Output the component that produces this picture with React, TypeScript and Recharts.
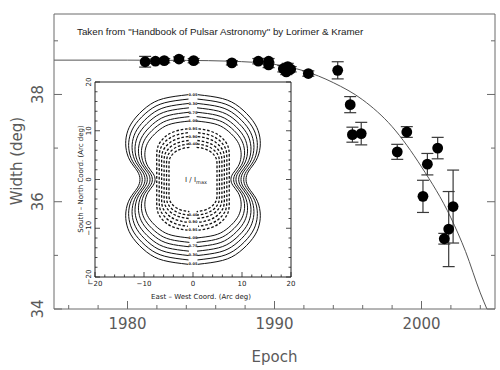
import React from "react"
import { ComposedChart, Line, Scatter, ErrorBar, XAxis, YAxis } from "recharts"

// fitted model curve
const curveYears = [1975, 1980, 1984, 1987, 1990, 1992, 1994, 1996, 1998, 2000, 2002, 2003, 2004, 2004.45]
const curveWidths = [38.64, 38.64, 38.635, 38.62, 38.56, 38.44, 38.22, 37.9, 37.4, 36.65, 35.7, 35.07, 34.3, 34.0]

// measured widths
const epochs = [1981.2, 1981.9, 1982.5, 1983.5, 1984.5, 1987.1, 1988.9, 1989.6, 1989.6, 1990.6, 1990.9, 1990.8, 1991.1, 1992.3, 1994.3, 1995.15, 1995.3, 1995.9, 1998.35, 1999.0, 2000.1, 2000.4, 2001.1, 2001.55, 2001.85, 2002.15]
const widths = [38.61, 38.62, 38.63, 38.66, 38.63, 38.59, 38.62, 38.62, 38.55, 38.48, 38.52, 38.42, 38.47, 38.39, 38.45, 37.81, 37.25, 37.27, 36.93, 37.3, 36.1, 36.7, 37.0, 35.31, 35.49, 35.91]
const errors = [0.1, 0.04, 0.04, 0.04, 0.04, 0.04, 0.05, 0.05, 0.05, 0.06, 0.06, 0.05, 0.05, 0.05, 0.16, 0.15, 0.14, 0.21, 0.14, 0.1, 0.3, 0.2, 0.2, 0.1, 0.7, 0.68]

const xTicks = [1976, 1978, 1980, 1982, 1984, 1986, 1988, 1990, 1992, 1994, 1996, 1998, 2000, 2002, 2004]
const yTicks = [34, 35, 36, 37, 38, 39]

// inset beam map: contour quadrant outlines (normalised) and their extents [half width, top]
const outerShape = [[-0.07, 1], [-0.44, 0.954], [-0.69, 0.855], [-0.89, 0.694], [-0.985, 0.538], [-1, 0.382], [-0.94, 0.225], [-0.83, 0.1], [-0.79, 0]]
const innerShape = [[-0.15, 1], [-0.45, 0.96], [-0.72, 0.87], [-0.9, 0.74], [-0.99, 0.58], [-1, 0.3], [-1, 0]]
const solidLevels = [[13.7, 17.4], [13.1, 16.5], [12.4, 15.6], [11.8, 14.7], [11.1, 13.8], [10.5, 12.9], [9.8, 12.0]]
const dashedLevels = [[7.4, 10.4], [6.9, 9.6], [6.4, 8.8], [5.9, 8.0], [5.4, 7.3], [4.9, 6.6]]
const contourLabelY = [17.3, 15.5, 13.7, 11.9, 10.3, 8.7, 7.2, -7.2, -8.7, -10.3, -11.9, -13.7, -15.5, -17.3]
const contourLabelText = ["0.05", "0.30", "0.75", "1.00", "0.95", "0.90", "0.40", "0.40", "0.90", "0.95", "1.00", "0.75", "0.30", "0.05"]
const insetTicks = [-20, -18, -16, -14, -12, -10, -8, -6, -4, -2, 0, 2, 4, 6, 8, 10, 12, 14, 16, 18, 20]

const curve = curveYears.map((year, i) => ({ year, w: curveWidths[i] }))
const points = epochs.map((year, i) => ({ year, w: widths[i], err: errors[i] }))

function halfPath(shape: number[][], w: number, t: number, side: number) {
  const upper = shape.map(([u, v]) => ({ x: side * u * w, y: v * t }))
  const lower = shape.slice(0, -1).reverse().map(([u, v]) => ({ x: side * u * w, y: -v * t }))
  return [...upper, ...lower]
}

const contours: { key: string; dashed: boolean; data: { x: number; y: number }[] }[] = []
solidLevels.forEach(([w, t], i) => {
  ;[1, -1].forEach((s) => contours.push({ key: `s${i}${s}`, dashed: false, data: halfPath(outerShape, w, t, s) }))
})
dashedLevels.forEach(([w, t], i) => {
  ;[1, -1].forEach((s) => contours.push({ key: `d${i}${s}`, dashed: true, data: halfPath(innerShape, w, t, s) }))
})
const contourLabels = contourLabelY.map((y, i) => ({ x: 0, y, t: contourLabelText[i] }))

const AXIS = "#6a6a6a"
const TXT = "#5a5a5a"
const FONT = "DejaVu Sans"

const minus = (v: number) => (v < 0 ? "\u2212" + Math.abs(v) : String(v))

export default function App() {
  return (
    <div style={{ position: "absolute", left: 0, top: 0, width: 500, height: 370, background: "#fff" }}>
      <ComposedChart width={500} height={370} margin={{ top: 0, right: 0, bottom: 0, left: 0 }}>
        <XAxis
          xAxisId="b"
          dataKey="year"
          type="number"
          domain={[1975, 2005]}
          ticks={xTicks}
          interval={0}
          height={61}
          tickSize={0}
          tickMargin={0}
          axisLine={{ stroke: AXIS }}
          allowDataOverflow
          tick={(p: any) => {
            const major = p.payload.value % 10 === 0
            return (
              <g>
                <line x1={p.x} x2={p.x} y1={p.y} y2={p.y - (major ? 8 : 4)} stroke={AXIS} />
                {major && (
                  <text x={p.x} y={p.y + 19.5} textAnchor="middle" fontSize={15} fontFamily={FONT} fill={TXT}>
                    {p.payload.value}
                  </text>
                )}
              </g>
            )
          }}
          label={{
            content: () => (
              <text x={274.5} y={362} textAnchor="middle" fontSize={15} fontFamily={FONT} fill={TXT}>
                Epoch
              </text>
            ),
          }}
        />
        <XAxis
          xAxisId="t"
          orientation="top"
          type="number"
          domain={[1975, 2005]}
          ticks={xTicks}
          interval={0}
          height={14}
          tickSize={0}
          tickMargin={0}
          axisLine={{ stroke: AXIS }}
          allowDataOverflow
          tick={(p: any) => {
            const major = p.payload.value % 10 === 0
            return <line x1={p.x} x2={p.x} y1={p.y} y2={p.y + (major ? 8 : 4)} stroke={AXIS} />
          }}
        />
        <YAxis
          yAxisId="l"
          type="number"
          domain={[34, 39.5]}
          ticks={yTicks}
          interval={0}
          width={54}
          tickSize={0}
          tickMargin={0}
          axisLine={{ stroke: AXIS }}
          allowDataOverflow
          tick={(p: any) => {
            const major = p.payload.value % 2 === 0
            const tx = p.x - 16
            return (
              <g>
                <line x1={p.x} x2={p.x + (major ? 8 : 4)} y1={p.y} y2={p.y} stroke={AXIS} />
                {major && (
                  <text
                    x={tx}
                    y={p.y}
                    transform={`rotate(-90 ${tx} ${p.y})`}
                    textAnchor="middle"
                    dominantBaseline="central"
                    fontSize={15}
                    fontFamily={FONT}
                    fill={TXT}
                  >
                    {p.payload.value}
                  </text>
                )}
              </g>
            )
          }}
          label={{
            content: () => (
              <text
                x={17}
                y={161}
                transform="rotate(-90 17 161)"
                textAnchor="middle"
                dominantBaseline="central"
                fontSize={15}
                fontFamily={FONT}
                fill={TXT}
              >
                Width (deg)
              </text>
            ),
          }}
        />
        <YAxis
          yAxisId="r"
          orientation="right"
          type="number"
          domain={[34, 39.5]}
          ticks={yTicks}
          interval={0}
          width={5}
          tickSize={0}
          tickMargin={0}
          axisLine={{ stroke: AXIS }}
          allowDataOverflow
          tick={(p: any) => {
            const major = p.payload.value % 2 === 0
            return <line x1={p.x} x2={p.x - (major ? 8 : 4)} y1={p.y} y2={p.y} stroke={AXIS} />
          }}
        />
        <Line
          xAxisId="b"
          yAxisId="l"
          data={curve}
          dataKey="w"
          type="monotone"
          stroke="#555"
          strokeWidth={1}
          dot={false}
          activeDot={false}
          isAnimationActive={false}
        />
        <Scatter
          xAxisId="b"
          yAxisId="l"
          data={points}
          dataKey="w"
          isAnimationActive={false}
          shape={(p: any) => <circle cx={p.cx} cy={p.cy} r={5.4} fill="#000" />}
        >
          <ErrorBar dataKey="err" direction="y" width={6} stroke="#3a3a3a" strokeWidth={1.2} isAnimationActive={false} />
        </Scatter>
      </ComposedChart>

      <div
        style={{
          position: "absolute",
          left: 77,
          top: 26,
          fontSize: 9.8,
          fontFamily: "Liberation Sans",
          color: "#222",
          whiteSpace: "nowrap",
        }}
      >
        {'Taken from "Handbook of Pulsar Astronomy" by Lorimer & Kramer'}
      </div>

      <div style={{ position: "absolute", left: 60, top: 70, width: 240, height: 232 }}>
        <ComposedChart width={240} height={232} margin={{ top: 0, right: 0, bottom: 0, left: 0 }}>
          <XAxis
            xAxisId="ib"
            dataKey="x"
            type="number"
            domain={[-20, 20]}
            ticks={insetTicks}
            interval={0}
            height={25}
            tickSize={0}
            tickMargin={0}
            axisLine={{ stroke: "#222" }}
            allowDataOverflow
            tick={(p: any) => {
              const major = p.payload.value % 10 === 0
              return (
                <g>
                  <line x1={p.x} x2={p.x} y1={p.y} y2={p.y - (major ? 5 : 2.5)} stroke="#222" strokeWidth={0.8} />
                  {major && (
                    <text x={p.x} y={p.y + 9} textAnchor="middle" fontSize={7} fontFamily={FONT} fill="#222">
                      {minus(p.payload.value)}
                    </text>
                  )}
                </g>
              )
            }}
            label={{
              content: () => (
                <text x={141} y={229} textAnchor="middle" fontSize={7} fontFamily={FONT} fill="#222">
                  {"East \u2013 West Coord. (Arc deg)"}
                </text>
              ),
            }}
          />
          <XAxis
            xAxisId="it"
            orientation="top"
            type="number"
            domain={[-20, 20]}
            ticks={insetTicks}
            interval={0}
            height={12}
            tickSize={0}
            tickMargin={0}
            axisLine={{ stroke: "#222" }}
            allowDataOverflow
            tick={(p: any) => {
              const major = p.payload.value % 10 === 0
              return <line x1={p.x} x2={p.x} y1={p.y} y2={p.y + (major ? 5 : 2.5)} stroke="#222" strokeWidth={0.8} />
            }}
          />
          <YAxis
            yAxisId="il"
            type="number"
            domain={[-20, 20]}
            ticks={insetTicks}
            interval={0}
            width={35}
            tickSize={0}
            tickMargin={0}
            axisLine={{ stroke: "#222" }}
            allowDataOverflow
            tick={(p: any) => {
              const major = p.payload.value % 10 === 0
              const tx = p.x - 6
              return (
                <g>
                  <line x1={p.x} x2={p.x + (major ? 5 : 2.5)} y1={p.y} y2={p.y} stroke="#222" strokeWidth={0.8} />
                  {major && (
                    <text
                      x={tx}
                      y={p.y}
                      transform={`rotate(-90 ${tx} ${p.y})`}
                      textAnchor="middle"
                      dominantBaseline="central"
                      fontSize={7}
                      fontFamily={FONT}
                      fill="#222"
                    >
                      {minus(p.payload.value)}
                    </text>
                  )}
                </g>
              )
            }}
            label={{
              content: () => (
                <text
                  x={21}
                  y={109}
                  transform="rotate(-90 21 109)"
                  textAnchor="middle"
                  dominantBaseline="central"
                  fontSize={7}
                  fontFamily={FONT}
                  fill="#222"
                >
                  {"South \u2013 North Coord. (Arc deg)"}
                </text>
              ),
            }}
          />
          <YAxis
            yAxisId="ir"
            orientation="right"
            type="number"
            domain={[-20, 20]}
            ticks={insetTicks}
            interval={0}
            width={9}
            tickSize={0}
            tickMargin={0}
            axisLine={{ stroke: "#222" }}
            allowDataOverflow
            tick={(p: any) => {
              const major = p.payload.value % 10 === 0
              return <line x1={p.x} x2={p.x - (major ? 5 : 2.5)} y1={p.y} y2={p.y} stroke="#222" strokeWidth={0.8} />
            }}
          />
          {contours.map((c) => (
            <Line
              key={c.key}
              xAxisId="ib"
              yAxisId="il"
              data={c.data}
              dataKey="y"
              type="natural"
              stroke="#111"
              strokeWidth={c.dashed ? 1.3 : 1}
              strokeDasharray={c.dashed ? "2.6 1.8" : undefined}
              dot={false}
              activeDot={false}
              isAnimationActive={false}
            />
          ))}
          <Scatter
            xAxisId="ib"
            yAxisId="il"
            data={contourLabels}
            dataKey="y"
            isAnimationActive={false}
            shape={(p: any) => (
              <text
                x={p.cx}
                y={p.cy}
                textAnchor="middle"
                dominantBaseline="central"
                fontSize={3.6}
                fontFamily={FONT}
                fontWeight="bold"
                fill="#222"
              >
                {p.payload.t}
              </text>
            )}
          />
          <Scatter
            xAxisId="ib"
            yAxisId="il"
            data={[{ x: 0, y: 0 }]}
            dataKey="y"
            isAnimationActive={false}
            shape={(p: any) => (
              <text x={p.cx + 3} y={p.cy} textAnchor="middle" dominantBaseline="central" fontSize={7} fontFamily={FONT} fill="#222">
                {"I / I"}
                <tspan dy={2} fontSize={5}>
                  max
                </tspan>
              </text>
            )}
          />
        </ComposedChart>
      </div>
    </div>
  )
}
